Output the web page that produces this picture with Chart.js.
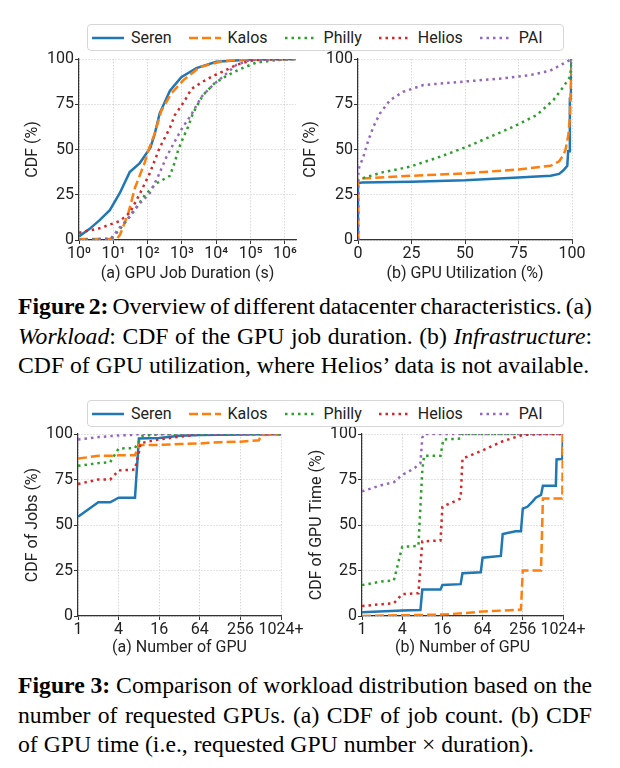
<!DOCTYPE html>
<html><head><meta charset="utf-8">
<script src="https://cdn.jsdelivr.net/npm/chart.js@4"></script>
<style>
body{margin:0;background:#fff;}
#page{position:relative;width:620px;height:768px;overflow:hidden;background:#fff;}
canvas{position:absolute;}
.legend{position:absolute;left:87px;width:477px;height:27px;box-sizing:border-box;border:1px solid #d6d6d6;border-radius:4px;display:flex;align-items:center;padding-left:4px;font:16px Roboto;color:#222;background:#fff;}
.item{display:flex;align-items:center;margin-right:17px;white-space:nowrap;}
.item svg{margin-right:7px;display:block;}
.cap{position:absolute;left:18px;font-family:'Liberation Serif','Times New Roman',serif;font-size:23.7px;line-height:29.5px;color:#000;white-space:nowrap;}
</style>
</head><body><div id="page"></div>
<script>
// ---------------- DATA ----------------
const seriesNames = ['Seren', 'Kalos', 'Philly', 'Helios', 'PAI'];

// Fig 2(a): GPU job duration (s) vs CDF (%)
const durSerenX  = [1, 2, 4, 7.9, 15.5, 30, 59, 120, 158, 224, 447, 955, 2630, 10000, 100000, 2100000];
const durSerenY  = [2, 6, 11, 16.5, 26, 37.5, 42.5, 51, 58, 70, 82.5, 90, 95, 98.5, 99.7, 100];
const durKalosX  = [1, 12.6, 15.8, 27, 43, 83, 100, 162, 251, 490, 1120, 3310, 12600, 58900, 2100000];
const durKalosY  = [0.5, 0.5, 3, 14.5, 29, 43, 48.5, 59, 71.5, 81, 88.5, 95.5, 98.5, 99.7, 100];
const durPhillyX = [1, 7.9, 10, 19.5, 42.7, 83, 182, 447, 617, 776, 1070, 1510, 2090, 4070, 8910, 19500, 47900, 144500, 562000, 2100000];
const durPhillyY = [0, 0.8, 1.8, 8.3, 16.6, 24.9, 31.3, 35.5, 43, 49.7, 56.2, 62.6, 70, 80, 86.6, 90.6, 94.3, 98, 99.4, 100];
const durHeliosX = [1, 4, 15.5, 30, 59, 115, 224, 447, 617, 871, 1200, 1900, 4070, 7940, 17400, 38000, 93300, 251000, 2100000];
const durHeliosY = [4, 6.5, 10.5, 15, 25.5, 36.8, 51, 62, 69, 73, 77, 83.5, 87.5, 90.6, 93.5, 96.7, 99, 99.8, 100];
const durPaiX    = [1, 8.3, 15.5, 24.5, 38, 59, 115, 200, 355, 692, 1070, 1510, 2090, 3720, 7940, 15500, 38000, 93300, 2100000];
const durPaiY    = [0, 0.5, 7, 11, 16, 20.2, 25.8, 35, 46, 56.2, 62.6, 66.5, 70.9, 79.2, 85.6, 90.2, 96.7, 99.4, 100];

// Fig 2(b): GPU utilization (%) vs CDF (%)  (Helios not available)
const utilSerenX  = [0, 0, 2, 25, 50, 75, 90, 94, 96, 97.8, 98.2, 98.8, 99, 99.5, 99.7, 100];
const utilSerenY  = [0, 31.5, 31.7, 32.2, 33, 34.5, 35.5, 36.5, 38.5, 41, 49, 49, 78, 78, 100, 100];
const utilKalosX  = [0, 0, 2, 25, 50, 75, 90, 94, 96, 97, 98.3, 99, 99.5, 100];
const utilKalosY  = [0, 33.5, 34, 35.5, 36.8, 39, 41, 43.5, 47, 50, 58, 68, 85, 100];
const utilPhillyX = [0, 0, 1.7, 11.8, 24.3, 38.3, 50.8, 61.7, 72.6, 83.5, 91.3, 96, 99.1, 100];
const utilPhillyY = [0, 33, 34, 37.5, 40.5, 46, 51.5, 57, 62.6, 69, 77.3, 84.7, 90.2, 100];
const utilPaiX    = [0, 0, 0.5, 2.5, 4.8, 7.2, 10.3, 15, 21.2, 30.5, 43, 55.5, 67.9, 80.4, 89.7, 96, 99, 100];
const utilPaiY    = [0, 35, 40, 46, 55, 62.6, 70, 77.3, 81.9, 85.6, 86.9, 88.1, 89.3, 91.1, 93.5, 97.5, 99.4, 100];

// Fig 3(a): number of GPUs vs CDF of jobs (%)
const jobSerenX  = [1, 2, 3, 4, 7, 8, 16, 32, 64, 1024];
const jobSerenY  = [54.5, 62.5, 62.5, 65, 65, 97.5, 97.8, 99, 99.5, 100];
const jobKalosX  = [1, 2, 3, 4, 7, 8, 16, 32, 64, 128, 256, 480, 530, 1024];
const jobKalosY  = [86.5, 88, 88, 88.3, 88.3, 94, 94, 94.5, 94.8, 95.5, 95.8, 96.6, 99.5, 99.7];
const jobPhillyX = [1, 2, 3, 4, 7, 8, 9, 16, 1024];
const jobPhillyY = [82.5, 84, 84.5, 92, 92.3, 96, 99, 99.8, 100];
const jobHeliosX = [1, 2, 3, 4, 7, 8, 8.5, 16, 32, 64, 1024];
const jobHeliosY = [72.5, 75, 75, 80, 80.5, 90, 95, 97, 98.5, 99.7, 100];
const jobPaiX    = [1, 2, 4, 7, 8, 1024];
const jobPaiY    = [97, 98.3, 99.2, 99.5, 100, 100];

// Fig 3(b): number of GPUs vs CDF of GPU time (%)
const timeSerenX  = [1, 4, 7.5, 8, 15, 16, 30, 32, 60, 64, 120, 128, 200, 240, 256, 300, 360, 400, 480, 512, 800, 820, 1000, 1024];
const timeSerenY  = [2, 3, 3.3, 14.5, 14.5, 17, 17.5, 23.5, 24, 32, 33, 45, 46.5, 46.5, 59, 60, 63, 65, 66.5, 71.5, 71.5, 86, 86.3, 100];
const timeKalosX  = [1, 16, 32, 64, 128, 240, 256, 480, 512, 1000, 1024];
const timeKalosY  = [0, 0.8, 1.5, 2.5, 3, 3.5, 25, 25, 64.5, 64.5, 100];
const timePhillyX = [1, 2, 3, 4, 7, 8, 8.5, 15, 16.5, 30, 32, 1024];
const timePhillyY = [17, 19, 19.5, 38, 38.5, 80, 88, 88, 97, 97.5, 100, 100];
const timeHeliosX = [1, 2, 3, 4, 7, 8, 15, 16, 30, 32, 64, 128, 256, 512, 1024];
const timeHeliosY = [5.5, 6.5, 7, 12, 12.5, 41, 41.5, 60, 64.5, 86.5, 91, 96, 99.5, 100, 100];
const timePaiX    = [1, 2, 3, 4, 6, 7.5, 8, 8.5, 1024];
const timePaiY    = [68.5, 72, 73.5, 77.5, 81, 84, 98, 100, 100];

// Tick values / labels
const cdfTicks = [0, 25, 50, 75, 100];
const durationTickValues = [1, 10, 100, 1000, 10000, 100000, 1000000];
const durationTickLabels = ['10⁰', '10¹', '10²', '10³', '10⁴', '10⁵', '10⁶'];
const utilTicks = [0, 25, 50, 75, 100];
const gpuTickValues = [1, 4, 16, 64, 256, 1024];
const gpuTickLabels = ['1', '4', '16', '64', '256', '1024+'];

// ---------------- STYLE ----------------
const seriesStyle = [
  {color: '#1f77b4', dash: []},
  {color: '#ff7f0e', dash: [9, 4]},
  {color: '#2ca02c', dash: [2.5, 4]},
  {color: '#d62728', dash: [2.5, 4]},
  {color: '#9467bd', dash: [2.5, 4]}
];
const LW = 2.5;
const FONT = {family: 'Roboto', size: 16};
const TXT = '#222';
Chart.defaults.font.family = 'Roboto';

const page = document.getElementById('page');

function ds(idx, xs, ys) {
  return {
    label: seriesNames[idx],
    data: xs.map((x, i) => ({x: x, y: ys[i]})),
    borderColor: seriesStyle[idx].color,
    backgroundColor: seriesStyle[idx].color,
    borderDash: seriesStyle[idx].dash,
    borderWidth: LW,
    pointRadius: 0,
    tension: 0,
    fill: false,
    order: 10 - idx
  };
}

function axisCommon() {
  return {
    grid: {color: '#cfcfcf', lineWidth: 0.8, tickLength: 4, tickColor: '#333', tickWidth: 1, tickBorderDash: []},
    border: {color: '#333', width: 1.2, dash: [1.5, 1.5]},
  };
}

function makeChart(g, xCfg, datasets, yTitle, xTitle) {
  const c = document.createElement('canvas');
  c.width = g.w; c.height = g.h;
  c.style.left = g.cl + 'px'; c.style.top = g.ct + 'px';
  c.style.width = g.w + 'px'; c.style.height = g.h + 'px';
  page.appendChild(c);
  const half = FONT.size * 1.2 / 2;
  const xa = axisCommon(), ya = axisCommon();
  new Chart(c, {
    type: 'line',
    data: {datasets: datasets},
    options: {
      responsive: false, animation: false, devicePixelRatio: 1,
      layout: {padding: {
        left: g.yTitleX - half - g.cl,
        top: g.plotT - g.ct,
        right: g.cl + g.w - g.plotR,
        bottom: g.ct + g.h - (g.xTitleY + half)
      }},
      plugins: {legend: {display: false}, tooltip: {enabled: false}},
      scales: {
        x: Object.assign(xa, {
          type: xCfg.type, min: xCfg.min, max: xCfg.max,
          afterBuildTicks: s => { s.ticks = xCfg.ticks.map(v => ({value: v})); },
          afterFit: s => { s.height = g.xTitleY + half - g.plotB; },
          ticks: {autoSkip: false, maxRotation: 0, minRotation: 0, padding: 0, color: TXT, font: FONT,
            callback: v => xCfg.labels[xCfg.ticks.indexOf(v)]},
          title: {display: true, text: xTitle, color: TXT, font: FONT, padding: 0}
        }),
        y: Object.assign(ya, {
          type: 'linear', min: 0, max: 100,
          afterBuildTicks: s => { s.ticks = cdfTicks.map(v => ({value: v})); },
          afterFit: s => { s.width = g.plotL - (g.yTitleX - half); },
          ticks: {padding: 1, color: TXT, font: FONT, callback: v => String(v)},
          title: {display: true, text: yTitle, color: TXT, font: FONT, padding: 0}
        })
      }
    }
  });
}

// Fig 2(a)
makeChart({cl: 0, ct: 40, w: 310, h: 250, plotL: 79, plotR: 296, plotT: 59, plotB: 240, yTitleX: 33, xTitleY: 274},
  {type: 'logarithmic', min: 1, max: 2100000, ticks: durationTickValues, labels: durationTickLabels},
  [ds(0, durSerenX, durSerenY), ds(1, durKalosX, durKalosY), ds(2, durPhillyX, durPhillyY), ds(3, durHeliosX, durHeliosY), ds(4, durPaiX, durPaiY)],
  'CDF (%)', '(a) GPU Job Duration (s)');

// Fig 2(b)
makeChart({cl: 300, ct: 40, w: 320, h: 250, plotL: 358, plotR: 572, plotT: 59, plotB: 240, yTitleX: 311, xTitleY: 274},
  {type: 'linear', min: 0, max: 100, ticks: utilTicks, labels: utilTicks.map(String)},
  [ds(0, utilSerenX, utilSerenY), ds(1, utilKalosX, utilKalosY), ds(2, utilPhillyX, utilPhillyY), ds(4, utilPaiX, utilPaiY)],
  'CDF (%)', '(b) GPU Utilization (%)');

// Fig 3(a)
makeChart({cl: 0, ct: 420, w: 310, h: 250, plotL: 78, plotR: 281, plotT: 434, plotB: 616, yTitleX: 33, xTitleY: 648},
  {type: 'logarithmic', min: 1, max: 1024, ticks: gpuTickValues, labels: gpuTickLabels},
  [ds(0, jobSerenX, jobSerenY), ds(1, jobKalosX, jobKalosY), ds(2, jobPhillyX, jobPhillyY), ds(3, jobHeliosX, jobHeliosY), ds(4, jobPaiX, jobPaiY)],
  'CDF of Jobs (%)', '(a) Number of GPU');

// Fig 3(b)
makeChart({cl: 300, ct: 420, w: 320, h: 250, plotL: 362, plotR: 563, plotT: 434, plotB: 616, yTitleX: 317, xTitleY: 648},
  {type: 'logarithmic', min: 1, max: 1024, ticks: gpuTickValues, labels: gpuTickLabels},
  [ds(0, timeSerenX, timeSerenY), ds(1, timeKalosX, timeKalosY), ds(2, timePhillyX, timePhillyY), ds(3, timeHeliosX, timeHeliosY), ds(4, timePaiX, timePaiY)],
  'CDF of GPU Time (%)', '(b) Number of GPU');

// Legends
function makeLegend(top) {
  const L = document.createElement('div');
  L.className = 'legend';
  L.style.top = top + 'px';
  seriesNames.forEach((name, i) => {
    const it = document.createElement('div');
    it.className = 'item';
    const st = seriesStyle[i];
    it.innerHTML = '<svg width="32" height="10"><line x1="0" y1="5" x2="32" y2="5" stroke="' + st.color +
      '" stroke-width="' + LW + '" stroke-dasharray="' + (st.dash.length ? st.dash.join(',') : 'none') + '"/></svg><span>' + name + '</span>';
    L.appendChild(it);
  });
  page.appendChild(L);
}
makeLegend(24);
makeLegend(400);

// Captions (justified lines are fitted to the column width by adjusting word spacing)
const CAP_WIDTH = 574;
function capLine(top, html, just) {
  const d = document.createElement('div');
  d.className = 'cap';
  d.style.top = top + 'px';
  d.innerHTML = html;
  page.appendChild(d);
  if (just) {
    const w = d.getBoundingClientRect().width;
    const spaces = (d.textContent.match(/ /g) || []).length;
    if (spaces) d.style.wordSpacing = ((CAP_WIDTH - w) / spaces) + 'px';
  }
}
capLine(292, '<b>Figure 2:</b> Overview of different datacenter characteristics. (a)', true);
capLine(321.5, '<i>Workload</i>: CDF of the GPU job duration. (b) <i>Infrastructure</i>:', true);
capLine(351, 'CDF of GPU utilization, where Helios’ data is not available.', false);
capLine(671, '<b>Figure 3:</b> Comparison of workload distribution based on the', true);
capLine(700.5, 'number of requested GPUs. (a) CDF of job count. (b) CDF', true);
capLine(729.5, 'of GPU time (i.e., requested GPU number × duration).', false);
</script>
</body></html>
